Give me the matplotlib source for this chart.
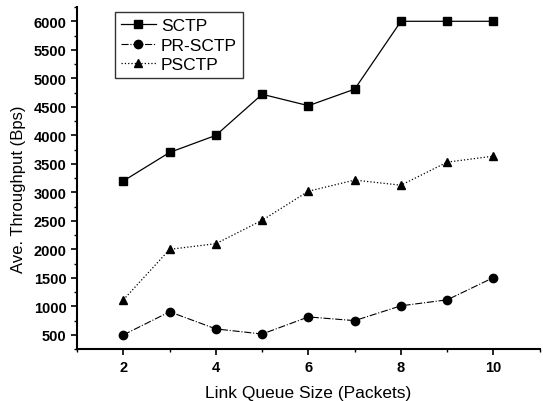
import matplotlib
matplotlib.use("Agg")
import matplotlib.pyplot as plt
from matplotlib.ticker import MultipleLocator

plt.rcParams['font.family'] = ['Liberation Sans', 'DejaVu Sans']

queue_size = [2, 3, 4, 5, 6, 7, 8, 9, 10]
sctp = [3200, 3700, 4000, 4720, 4520, 4810, 6000, 6000, 6000]
pr_sctp = [500, 905, 605, 515, 815, 750, 1010, 1115, 1505]
psctp = [1115, 2000, 2100, 2510, 3020, 3215, 3125, 3530, 3635]

fig = plt.figure(figsize=(5.43, 4.02), dpi=100)
ax = fig.add_axes([0.142, 0.129, 0.852, 0.851])

ax.plot(queue_size, sctp, '-', color='black', lw=0.9, marker='s', ms=6, label='SCTP')
ax.plot(queue_size, pr_sctp, '-.', color='black', lw=0.8, marker='o', ms=6, label='PR-SCTP')
ax.plot(queue_size, psctp, ':', color='black', lw=0.9, marker='^', ms=6, label='PSCTP')

ax.set_xlim(1, 11)
ax.set_ylim(250, 6250)
ax.xaxis.set_major_locator(MultipleLocator(2))
ax.xaxis.set_minor_locator(MultipleLocator(1))
ax.yaxis.set_major_locator(MultipleLocator(500))
ax.yaxis.set_minor_locator(MultipleLocator(250))

for s in ['top', 'right']:
    ax.spines[s].set_visible(False)
for s in ['left', 'bottom']:
    ax.spines[s].set_linewidth(1.5)

ax.tick_params(which='major', direction='out', length=4, width=1.2, labelsize=10.5)
ax.tick_params(which='minor', direction='out', length=2.5, width=1)
for lbl in ax.get_xticklabels() + ax.get_yticklabels():
    lbl.set_fontweight('bold')

ax.set_xlabel('Link Queue Size (Packets)', fontsize=12.5, labelpad=8)
ax.set_ylabel('Ave. Throughput (Bps)', fontsize=12)
ax.yaxis.set_label_coords(-0.11, 0.47)

leg = ax.legend(loc='upper left', bbox_to_anchor=(0.082, 0.985), borderaxespad=0,
                fontsize=12.5, frameon=True, fancybox=False, edgecolor='black',
                handlelength=2.0, borderpad=0.35, labelspacing=0.25, handletextpad=0.3)
leg.get_frame().set_linewidth(1.0)

fig.savefig('out.png', dpi=100)
